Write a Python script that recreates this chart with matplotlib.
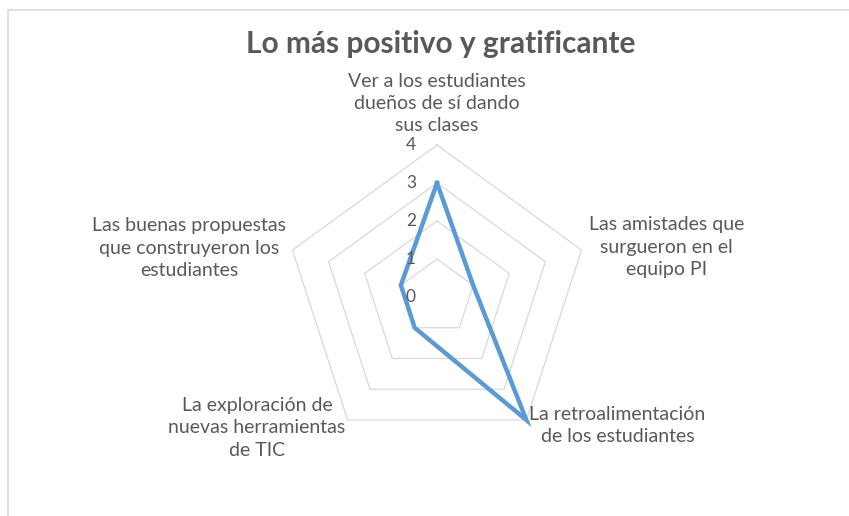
import numpy as np
import matplotlib
matplotlib.use("Agg")
import matplotlib.pyplot as plt
from matplotlib.patches import Rectangle

title = "Lo más positivo y gratificante"
categories = [
    "Ver a los estudiantes\ndueños de sí dando\nsus clases",
    "Las amistades que\nsurgueron en el\nequipo PI",
    "La retroalimentación\nde los estudiantes",
    "La exploración de\nnuevas herramientas\nde TIC",
    "Las buenas propuestas\nque construyeron los\nestudiantes",
]
values = [3, 1, 4, 1, 1]
rticks = [0, 1, 2, 3, 4]

TEXT = "#595959"
GRID = "#D9D9D9"
LINE = "#5B9BD5"
FONT = ["Lato", "DejaVu Sans"]

W, H, DPI = 849, 516, 100
cx_px, cy_px = 437, 297      # chart centre in pixels
s = 38.0                     # pixels per value unit

fig = plt.figure(figsize=(W / DPI, H / DPI), dpi=DPI)
fig.patch.set_facecolor("white")
ax = fig.add_axes([0, 0, 1, 1])
ax.set_xlim(-cx_px / s, (W - cx_px) / s)
ax.set_ylim(-(H - cy_px) / s, cy_px / s)
ax.axis("off")

# chart area border (cut off at right and bottom, like the reference)
fig.patches.append(Rectangle((7.5 / W, -0.1), 1.2, 1 - 9.5 / H + 0.1,
                             transform=fig.transFigure, fill=False,
                             edgecolor=GRID, linewidth=1.2))

n = len(categories)
ang = np.pi / 2 - np.arange(n) * 2 * np.pi / n
ux, uy = np.cos(ang), np.sin(ang)

# grid pentagons
for r in rticks[1:]:
    xs = np.append(ux * r, ux[0] * r)
    ys = np.append(uy * r, uy[0] * r)
    ax.plot(xs, ys, color=GRID, linewidth=0.9, zorder=1)

# data polygon
v = np.array(values, dtype=float)
xs = np.append(ux * v, ux[0] * v[0])
ys = np.append(uy * v, uy[0] * v[0])
ax.plot(xs, ys, color=LINE, linewidth=3.2, solid_joinstyle="miter", zorder=3)

# radial tick labels
for r in rticks:
    ax.text(-21 / s, r, str(r), ha="right", va="center", fontsize=12.5,
            color=TEXT, family=FONT, zorder=4)

# category labels
rmax = max(rticks)
lab_fs = 14
ls = 1.36
# top
ax.text(0, rmax + 11 / s, categories[0], ha="center", va="bottom",
        fontsize=lab_fs, color=TEXT, family=FONT, linespacing=ls,
        multialignment="center")
# right
ax.text(ux[1] * rmax + 7 / s, uy[1] * rmax + 3 / s, categories[1], ha="left",
        va="center", fontsize=lab_fs, color=TEXT, family=FONT, linespacing=ls,
        multialignment="center")
# bottom right
ax.text(ux[2] * rmax + 3 / s, uy[2] * rmax - 6 / s, categories[2], ha="left",
        va="center", fontsize=lab_fs, color=TEXT, family=FONT, linespacing=ls,
        multialignment="center")
# bottom left
ax.text(ux[3] * rmax - 2 / s, uy[3] * rmax - 8 / s, categories[3], ha="right",
        va="center", fontsize=lab_fs, color=TEXT, family=FONT, linespacing=ls,
        multialignment="center")
# left
ax.text(ux[4] * rmax - 6 / s, uy[4] * rmax + 2 / s, categories[4], ha="right",
        va="center", fontsize=lab_fs, color=TEXT, family=FONT, linespacing=ls,
        multialignment="center")

fig.text(441 / W, 1 - 44 / H, title, ha="center", va="center", fontsize=21.5,
         fontweight="bold", color=TEXT, family=FONT)

fig.savefig("out.png", dpi=DPI, facecolor="white")
